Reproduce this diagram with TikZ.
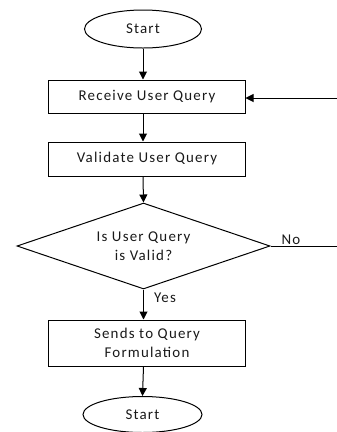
\documentclass[tikz,border=0pt]{standalone}
\usepackage{fontspec}
\setmainfont[LetterSpace=8]{Carlito}
\usetikzlibrary{shapes.geometric,arrows.meta}
\begin{document}
\begin{tikzpicture}[x=1bp,y=-1bp,
  every node/.style={font=\fontsize{15}{19}\selectfont, text=black!90},
  term/.style={ellipse,draw,line width=1bp,inner sep=0pt},
  proc/.style={rectangle,draw,line width=1bp,minimum width=196bp,inner sep=0pt,align=center},
  decide/.style={diamond,draw,line width=1bp,minimum width=253bp,minimum height=86bp,aspect=2.94,inner sep=0pt,align=center},
  flow/.style={line width=1bp,-{Triangle[length=8bp,width=8bp]}},
  plain/.style={line width=1bp},
  lbl/.style={inner sep=0pt}]
\useasboundingbox (0,0) rectangle (337,432);
\node[term,minimum width=117bp,minimum height=38bp] (start) at (143,29) {Start};
\node[proc,minimum height=33bp] (recv) at (147,96.5) {Receive User Query};
\node[proc,minimum height=34bp] (valid) at (147,159) {Validate User Query};
\node[decide] (dec) at (143.5,246) {Is User Query\\is Valid?};
\node[proc,minimum height=46bp] (form) at (147,343) {Sends to Query\\Formulation};
\node[term,minimum width=119bp,minimum height=36bp] (stop) at (142.5,414.5) {Start};
\coordinate (back) at (337,98);
\coordinate (noend) at (337,246);
\draw[flow] (start.south) -- (start.south |- recv.north);
\draw[flow] (start.south |- recv.south) -- (start.south |- valid.north);
\draw[flow] (start.south |- valid.south) -- (dec.north);
\draw[flow] (dec.south) -- (dec.south |- form.north);
\draw[flow] (dec.south |- form.south) -- (stop.north);
\draw[flow] (back) -- (back -| recv.east);
\draw[plain] (dec.east) -- (noend);
\node[lbl] (no) at (291,240) {No};
\node[lbl] (yes) at (165,298) {Yes};
\end{tikzpicture}
\end{document}
